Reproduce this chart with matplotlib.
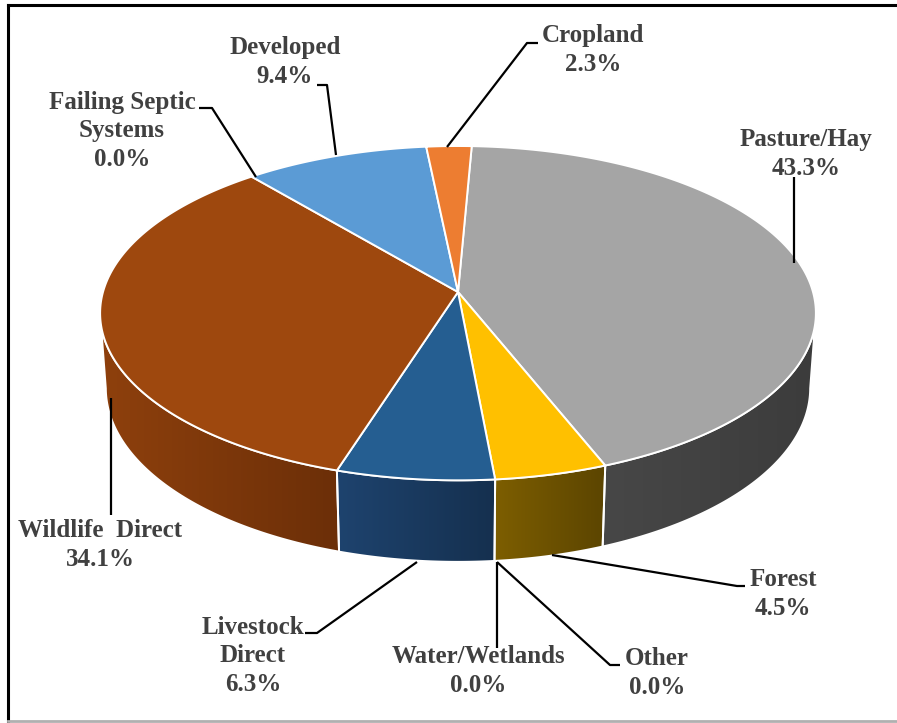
import numpy as np
import matplotlib
matplotlib.use("Agg")
import matplotlib.pyplot as plt
from matplotlib.patches import Polygon
from matplotlib.colors import LinearSegmentedColormap

# ── data (clockwise from 12 o'clock) ──
labels = ["Pasture/Hay", "Forest", "Other", "Water/Wetlands", "Livestock\nDirect",
          "Wildlife  Direct", "Failing Septic\nSystems", "Developed", "Cropland"]
shares = [43.3, 4.5, 0.0, 0.0, 6.3, 34.1, 0.0, 9.4, 2.3]

TOP = ["#a5a5a5", "#ffc000", "#7f7f7f", "#4472c4", "#255e91", "#9e480e", "#636363", "#5b9bd5", "#ed7d31"]
WALL_A = ["#474747", "#7d5e00", "#555555", "#2f4f86", "#1e436e", "#8e400d", "#444444", "#3f6f9a", "#a85520"]
WALL_B = ["#3c3c3c", "#5c4500", "#444444", "#223a62", "#15304f", "#6c2f08", "#333333", "#2f5577", "#803f16"]
INK = "#404040"

# label text centres and leader polylines (pixels)
lab_xy = [(806, 154), (783, 594), (657, 673), (478, 671), (253, 656),
          (100, 545), (122, 131), (285, 62), (593, 50)]
leaders = [[(794, 177), (794, 263)],
           [(745, 586), (737, 586), (552, 555)],
           [(620, 665), (610, 665), (497, 562)],
           [(497, 648), (497, 562)],
           [(305, 633), (317, 633), (417, 562)],
           [(111, 515), (111, 398)],
           [(199, 108), (212, 108), (256, 177)],
           [(317, 85), (327, 85), (336, 155)],
           [(538, 43), (527, 43), (447, 147)]]

# ── view geometry ──
CX, CY, R = 458, 292, 355
ELEV = np.radians(27.6)
S, C = np.sin(ELEV), np.cos(ELEV)
D = 7.0
H = 0.24
START = 2.5


def proj(theta, z):
    t = np.radians(theta)
    X, Y = np.sin(t), np.cos(t)
    k = D / (D + Y * C - z * S)
    return CX + R * X * k, CY - R * (Y * S + z * C) * k


fig = plt.figure(figsize=(8.97, 7.23), dpi=100)
ax = fig.add_axes([0, 0, 1, 1])
ax.set_xlim(0, 897); ax.set_ylim(723, 0); ax.axis("off")

vals = np.array(shares)
edges = START + np.concatenate([[0], np.cumsum(vals / vals.sum() * 360)])
th1 = np.degrees(np.arccos(-C / D))
th2 = 360 - th1

# outer walls (front half only)
for i in range(len(vals)):
    a0, a1 = max(edges[i], th1), min(edges[i + 1], th2)
    if vals[i] == 0 or a1 <= a0:
        continue
    ts = np.linspace(a0, a1, 80)
    xt, yt = proj(ts, 0)
    xb, yb = proj(ts[::-1], -H)
    pts = np.column_stack([np.concatenate([xt, xb]), np.concatenate([yt, yb])])
    poly = Polygon(pts, closed=True, facecolor="none", edgecolor="white", lw=1.4, zorder=3)
    ax.add_patch(poly)
    cmap = LinearSegmentedColormap.from_list("w%d" % i, [WALL_A[i], WALL_B[i]])
    x0, x1 = pts[:, 0].min(), pts[:, 0].max()
    y0, y1 = pts[:, 1].min(), pts[:, 1].max()
    im = ax.imshow(np.linspace(0, 1, 64)[None, :], cmap=cmap, aspect="auto",
                   extent=[x0, x1, y1, y0], zorder=2, interpolation="bilinear")
    im.set_clip_path(poly)

# top faces
for i in range(len(vals)):
    if vals[i] == 0:
        continue
    ts = np.linspace(edges[i], edges[i + 1], 200)
    xt, yt = proj(ts, 0)
    pts = np.column_stack([np.concatenate([[CX], xt]), np.concatenate([[CY], yt])])
    ax.add_patch(Polygon(pts, closed=True, facecolor=TOP[i], edgecolor="white",
                         lw=1.4, joinstyle="round", zorder=4))

# labels + leader lines
for i, name in enumerate(labels):
    x, y = lab_xy[i]
    ax.text(x, y, f"{name}\n{shares[i]:.1f}%", ha="center", va="center",
            family="Liberation Serif", weight="bold", fontsize=18, color=INK,
            linespacing=1.3, zorder=6)
    lx, ly = zip(*leaders[i])
    ax.plot(lx, ly, color="black", lw=1.6, zorder=5, solid_capstyle="butt")

# chart frame
ax.plot([8, 897], [5, 5], color="black", lw=2.2, zorder=7)
ax.plot([8, 8], [5, 721], color="black", lw=2.2, zorder=7)
ax.plot([8, 897], [721, 721], color="#b0b0b0", lw=2, zorder=7)

fig.savefig("out.png", dpi=100)
